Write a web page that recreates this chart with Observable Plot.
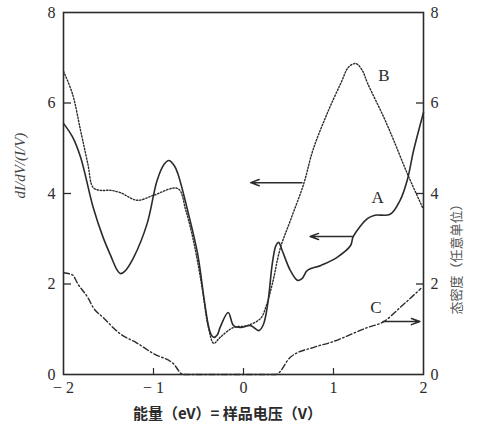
<!DOCTYPE html>
<html>
<head>
<meta charset="utf-8">
<script src="https://cdn.jsdelivr.net/npm/d3@7"></script>
<script src="https://cdn.jsdelivr.net/npm/@observablehq/plot@0.6"></script>
<style>
  html, body { margin: 0; padding: 0; background: #fff; }
  #chart { width: 478px; height: 439px; }
  #chart svg text.serif { font-family: "Liberation Serif", "Times New Roman", "DejaVu Serif", serif !important; }
</style>
</head>
<body>
<div id="chart"></div>
<script>
// Curve A (solid): normalized conductance, left axis
const aX = [-2.0, -1.9, -1.81, -1.67, -1.56, -1.47, -1.41, -1.37, -1.32, -1.22, -1.07, -0.96, -0.88, -0.83, -0.77, -0.73, -0.62, -0.51, -0.44, -0.39, -0.36, -0.33, -0.29, -0.26, -0.17, -0.11, -0.03, 0.08, 0.17, 0.22, 0.27, 0.32, 0.36, 0.39, 0.43, 0.52, 0.60, 0.65, 0.71, 0.86, 1.04, 1.19, 1.22, 1.38, 1.46, 1.63, 1.74, 1.82, 1.89, 2.0];
const aY = [5.55, 5.25, 4.8, 3.69, 3.03, 2.6, 2.33, 2.23, 2.28, 2.59, 3.34, 4.29, 4.65, 4.73, 4.62, 4.44, 3.62, 2.67, 1.7, 1.08, 0.88, 0.82, 0.88, 1.04, 1.37, 1.08, 1.04, 1.08, 0.97, 1.1, 1.57, 2.45, 2.85, 2.92, 2.74, 2.3, 2.08, 2.12, 2.3, 2.41, 2.59, 2.85, 3.05, 3.45, 3.52, 3.54, 3.85, 4.3, 4.95, 5.79];
// Curve B (dotted): left axis
const bX = [-2.0, -1.9, -1.81, -1.73, -1.67, -1.59, -1.48, -1.37, -1.18, -1.0, -0.73, -0.64, -0.55, -0.46, -0.39, -0.33, -0.26, -0.11, 0.04, 0.19, 0.25, 0.32, 0.41, 0.52, 0.67, 0.77, 0.93, 1.08, 1.17, 1.25, 1.32, 1.38, 1.56, 1.67, 1.82, 1.99];
const bY = [6.7, 6.2, 5.39, 4.66, 4.13, 4.07, 4.07, 4.02, 3.85, 3.96, 4.11, 3.62, 2.9, 1.92, 1.04, 0.69, 0.82, 1.04, 1.08, 1.24, 1.5, 2.0, 2.8, 3.4, 4.22, 4.95, 5.77, 6.43, 6.8, 6.87, 6.72, 6.43, 5.68, 5.17, 4.44, 3.69];
// Curve C (dash-dot): density of states, right axis (same 0–8 scale)
const cX = [-2.0, -1.9, -1.84, -1.73, -1.67, -1.56, -1.37, -1.18, -1.0, -0.78, -0.67, 0.36, 0.52, 0.78, 0.97, 1.38, 1.56, 1.74, 1.97];
const cY = [2.25, 2.2, 2.0, 1.7, 1.48, 1.26, 0.9, 0.69, 0.46, 0.24, 0.0, 0.0, 0.38, 0.6, 0.71, 1.04, 1.17, 1.48, 1.9];

// Axis ticks
const yTicks = [0, 2, 4, 6, 8];
const yInnerTicks = [2, 4, 6];
const xTicks = [-2, -1, 0, 1, 2];
const xInnerTicks = [-1, 0, 1];

// Curve labels and arrows (data coordinates)
const labelText = ["B", "A", "C"];
const labelX = [1.56, 1.49, 1.47];
const labelY = [6.6, 3.9, 1.48];
const arrowX1 = [0.65, 1.21, 1.55];
const arrowX2 = [0.08, 0.74, 1.96];
const arrowY = [4.24, 3.05, 1.17];

const xLabel = "能量（eV）= 样品电压（V）";
const yLabelLeft = "dI/dV/(I/V)";
const yLabelRight = "态密度（任意单位）";

const A = aX.map((x, i) => ({x, y: aY[i]}));
const B = bX.map((x, i) => ({x, y: bY[i]}));
const C = cX.map((x, i) => ({x, y: cY[i]}));
const labels = labelText.map((t, i) => ({t, x: labelX[i], y: labelY[i]}));
const arrows = arrowX1.map((x1, i) => ({x1, x2: arrowX2[i], y: arrowY[i]}));

const ink = "#2b2b2b";
const serif = "Liberation Serif, Times New Roman, DejaVu Serif, serif";
const cjk = "Noto Sans CJK SC";
const fmtX = d => d < 0 ? "− " + (-d) : String(d);

const chart = Plot.plot({
  width: 478,
  height: 439,
  marginTop: 12,
  marginRight: 55,
  marginBottom: 65,
  marginLeft: 63,
  style: {background: "#fff", color: ink, fontSize: "15px"},
  x: {domain: [-2, 2]},
  y: {domain: [0, 8]},
  marks: [
    Plot.frame({stroke: ink, strokeWidth: 1.6}),
    // inward ticks
    Plot.axisY(yInnerTicks, {anchor: "left", tickSize: -8, text: null, label: null, stroke: ink, strokeWidth: 1.3}),
    Plot.axisY(yInnerTicks, {anchor: "right", tickSize: -8, text: null, label: null, stroke: ink, strokeWidth: 1.3}),
    Plot.axisX(xInnerTicks, {anchor: "bottom", tickSize: -6, text: null, label: null, stroke: ink, strokeWidth: 1.2}),
    // tick labels (serif, drawn through the scales)
    Plot.text(yTicks, {y: d => d, frameAnchor: "left", textAnchor: "end", dx: -8, fontSize: 16, className: "serif", fill: ink}),
    Plot.text(yTicks, {y: d => d, frameAnchor: "right", textAnchor: "start", dx: 7, fontSize: 16, className: "serif", fill: ink}),
    Plot.text(xTicks, {x: d => d, text: fmtX, frameAnchor: "bottom", dy: 18, fontSize: 16, className: "serif", fill: ink}),
    // curves
    Plot.line(C, {x: "x", y: "y", curve: "monotone-x", stroke: ink, strokeWidth: 1.4, strokeDasharray: "6,2.5,1.5,2.5"}),
    Plot.line(B, {x: "x", y: "y", curve: "catmull-rom", stroke: ink, strokeWidth: 1.4, strokeDasharray: "1.4,1.8"}),
    Plot.line(A, {x: "x", y: "y", curve: "catmull-rom", stroke: ink, strokeWidth: 1.6}),
    // arrows
    Plot.arrow(arrows, {x1: "x1", y1: "y", x2: "x2", y2: "y", stroke: ink, strokeWidth: 1.5, headLength: 9, headAngle: 40}),
    // curve labels
    Plot.text(labels, {x: "x", y: "y", text: "t", fontSize: 17, className: "serif", fill: ink}),
    // axis titles
    Plot.text([xLabel], {frameAnchor: "bottom", dx: -16, dy: 44, fontSize: 15, fontWeight: "bold", fontFamily: cjk, fill: ink}),
    Plot.text([yLabelLeft], {frameAnchor: "left", dx: -43, dy: 5, rotate: -90, fontSize: 15, fontStyle: "italic", className: "serif", fill: "#444"}),
    Plot.text([yLabelRight], {frameAnchor: "right", dx: 33, dy: 4, rotate: -90, fontSize: 13, fontFamily: cjk, fill: "#555"})
  ]
});
// apply the serif class to the text elements inside the marked groups
chart.querySelectorAll("g.serif text").forEach(t => t.classList.add("serif"));
document.getElementById("chart").appendChild(chart);
</script>
</body>
</html>
